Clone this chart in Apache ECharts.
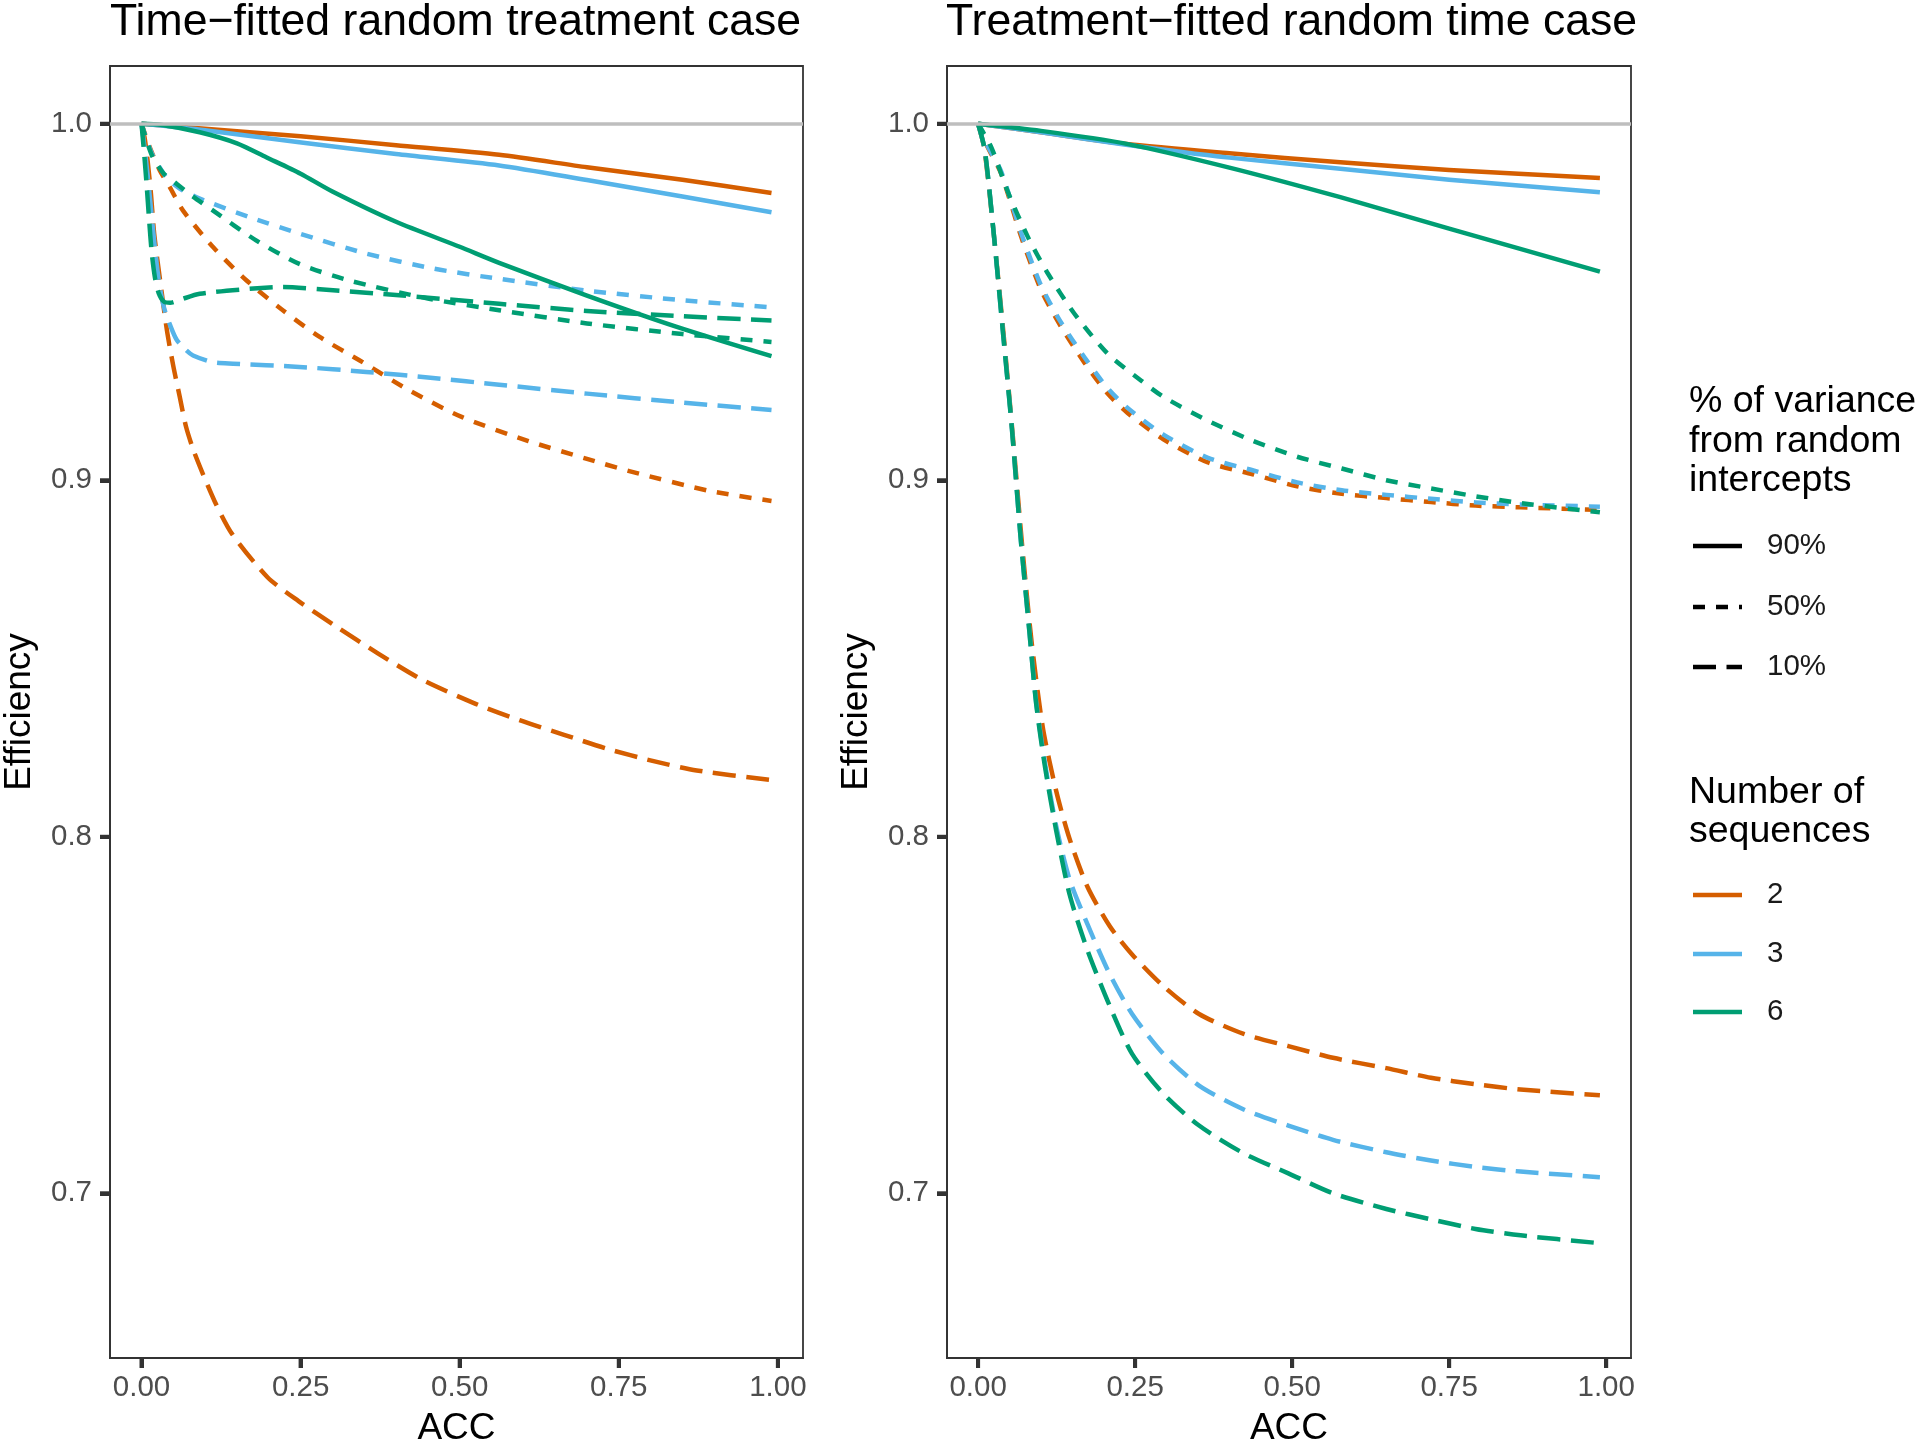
<!DOCTYPE html>
<html><head><meta charset="utf-8">
<script src="https://cdn.jsdelivr.net/npm/echarts@6/dist/echarts.min.js"></script>
<style>html,body{margin:0;padding:0;background:#fff}#c{width:1920px;height:1447px}</style>
</head><body><div id="c"></div>
<script>
// ---------- data ----------
const panelTitles = ['Time\u2212fitted random treatment case', 'Treatment\u2212fitted random time case'];
const xTicks = [0, 0.25, 0.5, 0.75, 1.0];
const yTicks = [0.7, 0.8, 0.9, 1.0];
const seqLevels = ['2', '3', '6'];
const varLevels = ['90%', '50%', '10%'];

// Left panel (time-fitted random treatment case): [ACC, Efficiency]
const L2_90 = [[0,1.0],[0.1,0.9986],[0.25,0.9965],[0.4,0.9940],[0.562,0.9913],[0.7,0.9878],[0.85,0.9843],[0.99,0.9806]];
const L3_90 = [[0,1.0],[0.1,0.9982],[0.248,0.9948],[0.4,0.9915],[0.562,0.9883],[0.7,0.9842],[0.85,0.9796],[0.99,0.9752]];
const L6_90 = [[0,1.0],[0.03,0.9997],[0.0915,0.9976],[0.15,0.9945],[0.196,0.9906],[0.25,0.986],[0.3,0.981],[0.4,0.9725],[0.5,0.9655],[0.562,0.961],[0.7,0.9518],[0.84,0.9431],[0.99,0.9348]];
const L2_50 = [[0,1.0],[0.013,0.9934],[0.0288,0.9869],[0.0445,0.9822],[0.065,0.9757],[0.1124,0.9654],[0.1647,0.9561],[0.222,0.9477],[0.28,0.9402],[0.343,0.9336],[0.421,0.9252],[0.504,0.9177],[0.608,0.911],[0.7,0.906],[0.768,0.9025],[0.893,0.897],[0.99,0.8942]];
const L3_50 = [[0,1.0],[0.008,0.9955],[0.018,0.991],[0.039,0.985],[0.06,0.9818],[0.0915,0.979],[0.17,0.9738],[0.248,0.9692],[0.353,0.9636],[0.458,0.9594],[0.562,0.9565],[0.7,0.9532],[0.85,0.9505],[0.99,0.9485]];
const L6_50 = [[0,1.0],[0.008,0.9953],[0.018,0.9905],[0.035,0.986],[0.055,0.9832],[0.08,0.9797],[0.112,0.9757],[0.18,0.9673],[0.248,0.9607],[0.327,0.956],[0.45,0.951],[0.562,0.9477],[0.7,0.944],[0.85,0.941],[0.99,0.9388]];
const L2_10 = [[0,1.0],[0.005,0.996],[0.01,0.989],[0.015,0.98],[0.02,0.969],[0.03,0.955],[0.04,0.942],[0.05,0.932],[0.06,0.9235],[0.07,0.915],[0.0834,0.9076],[0.1147,0.8942],[0.1425,0.8849],[0.198,0.8728],[0.2468,0.8661],[0.3024,0.8594],[0.372,0.8514],[0.4415,0.844],[0.525,0.8373],[0.594,0.8327],[0.664,0.8286],[0.7334,0.8246],[0.803,0.8213],[0.8725,0.8186],[0.99,0.8159]];
const L3_10 = [[0,1.0],[0.005,0.993],[0.01,0.985],[0.015,0.976],[0.02,0.967],[0.025,0.959],[0.03,0.953],[0.036,0.948],[0.045,0.9435],[0.055,0.9395],[0.07,0.9365],[0.081,0.935],[0.112,0.9331],[0.144,0.9327],[0.248,0.9318],[0.353,0.9304],[0.458,0.9287],[0.562,0.9268],[0.7,0.9243],[0.85,0.9218],[0.99,0.9197]];
const L6_10 = [[0,1.0],[0.004,0.992],[0.008,0.983],[0.012,0.973],[0.016,0.964],[0.021,0.957],[0.027,0.9525],[0.036,0.95],[0.045,0.9498],[0.06,0.9506],[0.0915,0.9523],[0.17,0.9537],[0.222,0.9542],[0.301,0.9533],[0.405,0.9519],[0.562,0.9495],[0.7,0.9475],[0.85,0.946],[0.99,0.9448]];

// Right panel (treatment-fitted random time case)
const R2_90 = [[0,1.0],[0.1,0.9976],[0.2327,0.9944],[0.4,0.9917],[0.5767,0.9892],[0.75,0.987],[0.99,0.9848]];
const R3_90 = [[0,1.0],[0.1,0.9976],[0.2327,0.9942],[0.4,0.9905],[0.5767,0.9874],[0.75,0.9843],[0.99,0.9808]];
const R6_90 = [[0,1.0],[0.1,0.998],[0.2327,0.9945],[0.4,0.9877],[0.5767,0.9794],[0.75,0.9706],[0.99,0.9585]];
const R2_50 = [[0,1.0],[0.015,0.9935],[0.037,0.9859],[0.0688,0.9682],[0.1005,0.9533],[0.1323,0.943],[0.1693,0.933],[0.2063,0.9243],[0.238,0.9189],[0.295,0.9115],[0.366,0.905],[0.437,0.9017],[0.508,0.8983],[0.579,0.8962],[0.65,0.895],[0.721,0.8939],[0.792,0.8929],[0.8636,0.8924],[0.99,0.8917]];
const R3_50 = [[0,1.0],[0.015,0.9938],[0.037,0.9865],[0.0688,0.9692],[0.1005,0.9545],[0.1323,0.9442],[0.1693,0.9345],[0.2063,0.9258],[0.238,0.9203],[0.295,0.9128],[0.366,0.9063],[0.437,0.9028],[0.508,0.8994],[0.579,0.8972],[0.65,0.8959],[0.721,0.8948],[0.792,0.8938],[0.8636,0.8932],[0.99,0.8926]];
const R6_50 = [[0,1.0],[0.0211,0.9934],[0.0476,0.9808],[0.0794,0.9682],[0.1111,0.958],[0.1534,0.9467],[0.2063,0.9355],[0.2593,0.928],[0.295,0.9234],[0.366,0.9167],[0.437,0.9111],[0.508,0.9066],[0.579,0.9033],[0.65,0.9],[0.721,0.8977],[0.792,0.8955],[0.8636,0.8936],[0.99,0.891]];
const R2_10 = [[0,1.0],[0.01,0.993],[0.025,0.969],[0.04,0.942],[0.055,0.913],[0.07,0.882],[0.085,0.855],[0.103,0.8307],[0.1244,0.8128],[0.1457,0.7994],[0.1741,0.786],[0.2097,0.7749],[0.2452,0.767],[0.295,0.7581],[0.3518,0.7503],[0.4229,0.7447],[0.494,0.7413],[0.565,0.738],[0.65,0.7351],[0.721,0.7324],[0.792,0.7306],[0.8636,0.7291],[0.99,0.7275]];
const R3_10 = [[0,1.0],[0.0107,0.9926],[0.0249,0.9692],[0.0391,0.9424],[0.0533,0.9156],[0.0675,0.8843],[0.0817,0.8575],[0.0924,0.8378],[0.1066,0.8205],[0.1244,0.803],[0.1457,0.788],[0.1741,0.7755],[0.2097,0.7614],[0.2452,0.7503],[0.295,0.7391],[0.3518,0.7302],[0.4229,0.7235],[0.494,0.719],[0.565,0.715],[0.65,0.7115],[0.721,0.7092],[0.792,0.7074],[0.8636,0.7061],[0.99,0.7045]];
const R6_10 = [[0,1.0],[0.0107,0.9926],[0.0249,0.9692],[0.0391,0.9424],[0.0533,0.9156],[0.0675,0.8843],[0.0817,0.8575],[0.0924,0.8374],[0.1066,0.8195],[0.1244,0.8017],[0.1457,0.7838],[0.1741,0.7682],[0.2097,0.7525],[0.2452,0.7391],[0.295,0.7279],[0.3518,0.719],[0.4229,0.7112],[0.494,0.7056],[0.565,0.70],[0.65,0.6956],[0.721,0.6927],[0.792,0.69],[0.8636,0.6882],[0.99,0.686]];

const refValue = 1.0;

// ---------- styling ----------
const FONT = '"Liberation Sans", Arial, Helvetica, sans-serif';
const seqColors = {'2':'#D55E00','3':'#56B4E9','6':'#009E73'};
const dashes = {'90%':'solid','50%':[12,11],'10%':[23,10.5]};
const LW = 4.5;
const X_MIN = -0.0495, X_MAX = 1.0395, Y_MIN = 0.6538, Y_MAX = 1.0162;
const TICK_LEN = 10, TICK_W = 4, AXIS_COL = '#333333';

const panels = [
  {'2':{'90%':L2_90,'50%':L2_50,'10%':L2_10},'3':{'90%':L3_90,'50%':L3_50,'10%':L3_10},'6':{'90%':L6_90,'50%':L6_50,'10%':L6_10}},
  {'2':{'90%':R2_90,'50%':R2_50,'10%':R2_10},'3':{'90%':R3_90,'50%':R3_50,'10%':R3_10},'6':{'90%':R6_90,'50%':R6_50,'10%':R6_10}}
];

const gridsPx = [{left:110, top:66, width:693, height:1292},{left:947, top:66, width:684, height:1292}];

const series = [];
panels.forEach((p, gi) => {
  let first = true;
  seqLevels.forEach(s => {
    varLevels.forEach(v => {
      const ser = {
        type:'line', xAxisIndex:gi, yAxisIndex:gi, data:p[s][v],
        showSymbol:false, symbol:'none', smooth:0.25,
        lineStyle:{color:seqColors[s], width:LW, type:dashes[v], cap:'butt', join:'round'},
        silent:true, animation:false, z:2
      };
      if (first) {
        ser.markLine = {silent:true, symbol:['none','none'], label:{show:false},
          lineStyle:{color:'#BEBEBE', width:3.5, type:'solid'}, data:[{yAxis:refValue}], animation:false};
        first = false;
      }
      series.push(ser);
    });
  });
});

const xAxes = gridsPx.map((g,i)=>({
  gridIndex:i, type:'value', min:X_MIN, max:X_MAX, position:'bottom',
  axisLine:{show:true, onZero:false, lineStyle:{color:AXIS_COL, width:1.8}}, splitLine:{show:false},
  axisTick:{show:true, inside:false, length:TICK_LEN, customValues:xTicks, lineStyle:{color:AXIS_COL, width:TICK_W}},
  axisLabel:{show:true, customValues:xTicks, formatter:v=>Number(v).toFixed(2), color:'#4D4D4D', fontSize:29.5, fontFamily:FONT, margin:15}
}));
const yAxes = gridsPx.map((g,i)=>({
  gridIndex:i, type:'value', min:Y_MIN, max:Y_MAX, position:'left',
  axisLine:{show:true, onZero:false, lineStyle:{color:AXIS_COL, width:1.8}}, splitLine:{show:false},
  axisTick:{show:true, inside:false, length:TICK_LEN, customValues:yTicks, lineStyle:{color:AXIS_COL, width:TICK_W}},
  axisLabel:{show:true, customValues:yTicks, formatter:v=>Number(v).toFixed(1), color:'#4D4D4D', fontSize:29.5, fontFamily:FONT, margin:18}
}));

function txt(text, x, y, size, opts) {
  opts = opts || {};
  return {type:'text', x:x, y:y, rotation:opts.rotation||0, silent:true, z:10,
    style:{text:text, x:0, y:0, fill:opts.color||'#000', fontSize:size, fontFamily:FONT,
      align:opts.align||'left', textAlign:opts.align||'left',
      verticalAlign:'middle', textVerticalAlign:'middle'}};
}
function seg(x1,y1,x2,y2,color,w,dash) {
  return {type:'line', silent:true, z:20, shape:{x1:x1, y1:y1, x2:x2, y2:y2},
    style:{stroke:color, lineWidth:w, lineDash:(!dash||dash==='solid')?null:dash, lineCap:'butt'}};
}

// scale helper: the chart's own conversion, with the grid's linear scale as a fallback
function px(chart, gi, v, dim) {
  let r;
  try {
    r = chart.convertToPixel({gridIndex:gi}, dim === 'x' ? [v, Y_MIN] : [X_MIN, v]);
  } catch (e) { r = null; }
  let out = Array.isArray(r) ? r[dim === 'x' ? 0 : 1] : r;
  if (typeof out !== 'number' || !isFinite(out)) {
    const g = gridsPx[gi];
    out = dim === 'x' ? g.left + (v - X_MIN) / (X_MAX - X_MIN) * g.width
                      : g.top + (Y_MAX - v) / (Y_MAX - Y_MIN) * g.height;
  }
  return out;
}

const graphics = [
  txt(panelTitles[0], 110, 23, 44.6),
  txt(panelTitles[1], 946, 23, 44.6),
  txt('ACC', 456.5, 1429, 37, {align:'center'}),
  txt('ACC', 1289, 1429, 37, {align:'center'}),
  txt('Efficiency', 20, 712, 37, {align:'center', rotation:Math.PI/2}),
  txt('Efficiency', 857, 712, 37, {align:'center', rotation:Math.PI/2}),
  txt('% of variance', 1689, 402, 37.5),
  txt('from random', 1689, 442, 37.5),
  txt('intercepts', 1689, 481, 37.5),
  txt('Number of', 1689, 793, 37.5),
  txt('sequences', 1689, 832, 37.5)
];
const varKeyY = [546, 607, 667];
varLevels.forEach((v,i)=>{
  graphics.push(seg(1693, varKeyY[i], 1742, varKeyY[i], '#000000', LW, dashes[v]));
  graphics.push(txt(v, 1767, varKeyY[i], 29.5, {color:'#1A1A1A'}));
});
const seqKeyY = [895, 954, 1012];
seqLevels.forEach((s,i)=>{
  graphics.push(seg(1693, seqKeyY[i], 1742, seqKeyY[i], seqColors[s], LW, 'solid'));
  graphics.push(txt(s, 1767, seqKeyY[i], 29.5, {color:'#1A1A1A'}));
});

const chart = echarts.init(document.getElementById('c'), null, {renderer:'canvas'});
const baseOption = {
  animation:false,
  backgroundColor:'#ffffff',
  grid: gridsPx.map(g=>Object.assign({show:true, borderColor:AXIS_COL, borderWidth:1.8, backgroundColor:'transparent', containLabel:false, outerBoundsMode:'none'}, g)),
  xAxis: xAxes,
  yAxis: yAxes,
  series: series,
  graphic: graphics
};
chart.setOption(baseOption);

// tick marks positioned through the axes' scales (drawn over the axis ticks)
const ticks = [];
gridsPx.forEach((g, gi) => {
  const yBottom = px(chart, gi, Y_MIN, 'y');
  const xLeft = px(chart, gi, X_MIN, 'x');
  xTicks.forEach(xv => {
    const x = px(chart, gi, xv, 'x');
    ticks.push(seg(x, yBottom, x, yBottom + TICK_LEN, AXIS_COL, TICK_W));
  });
  yTicks.forEach(yv => {
    const y = px(chart, gi, yv, 'y');
    ticks.push(seg(xLeft - TICK_LEN, y, xLeft, y, AXIS_COL, TICK_W));
  });
});
baseOption.graphic = graphics.concat(ticks);
chart.setOption(baseOption, {notMerge:true});
</script></body></html>
